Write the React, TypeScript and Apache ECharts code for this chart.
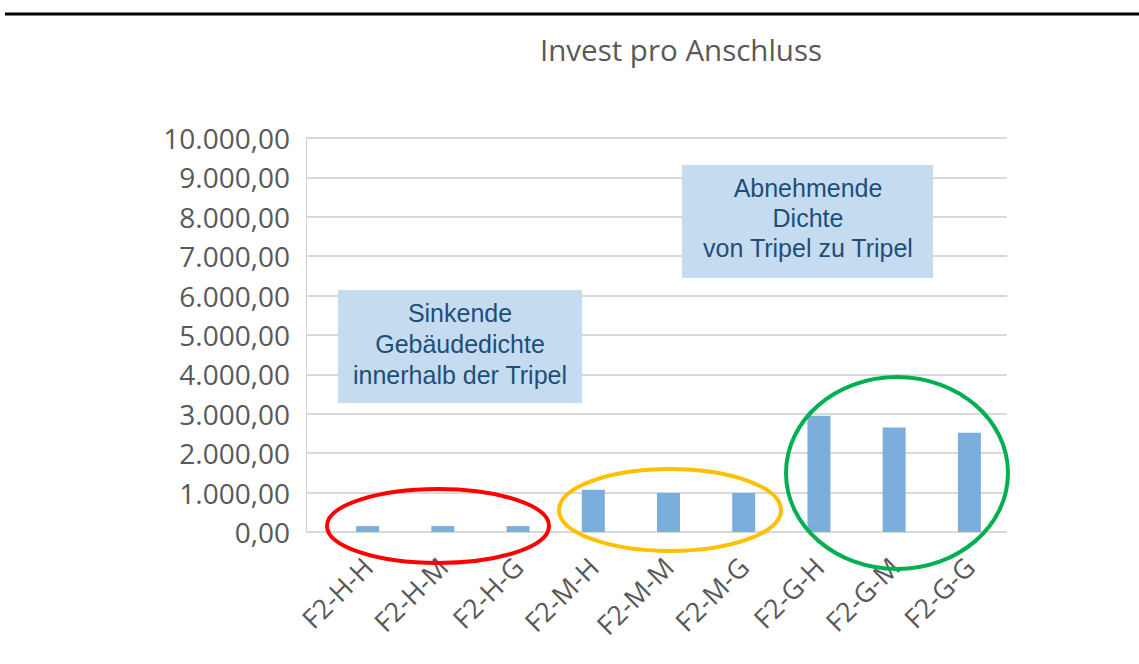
import React, { useEffect, useRef } from "react";
import * as echarts from "echarts";

const categories = ["F2-H-H", "F2-H-M", "F2-H-G", "F2-M-H", "F2-M-M", "F2-M-G", "F2-G-H", "F2-G-M", "F2-G-G"];
const investValues = [150, 150, 150, 1070, 990, 990, 2950, 2650, 2520];
const yMin = 0;
const yMax = 10000;
const yStep = 1000;
const titleText = "Invest pro Anschluss";
const box1Text = "Sinkende\nGebäudedichte\ninnerhalb der Tripel";
const box2Text = "Abnehmende\nDichte\nvon Tripel zu Tripel";

function fmt(v: number): string {
  const s = Math.round(v).toString().replace(/\B(?=(\d{3})+(?!\d))/g, ".");
  return s + ",00";
}

export default function App() {
  const ref = useRef<HTMLDivElement>(null);
  useEffect(() => {
    if (!ref.current) return;
    const chart = echarts.init(ref.current, null, { renderer: "svg" });
    const gray = "#595959";
    const grid = "#D9D9D9";
    const boxFill = "#C5DCF0";
    const boxText = "#1F4E79";
    const font = "Open Sans";
    chart.setOption({
      animation: false,
      backgroundColor: "#ffffff",
      title: {
        text: titleText,
        left: 535,
        top: 29,
        textStyle: { fontFamily: font, fontSize: 29.5, fontWeight: "normal", color: gray },
      },
      grid: [
        { left: 306, right: 132, top: 138, bottom: 132 },
        { left: 330, right: 132, top: 138, bottom: 132 },
      ],
      xAxis: [
        { gridIndex: 0, type: "category", data: categories, show: false },
        {
          gridIndex: 1,
          type: "category",
          data: categories,
          axisLine: { show: false },
          axisTick: { show: false },
          axisLabel: { rotate: 45, margin: 30, fontFamily: font, fontSize: 27, color: gray, interval: 0 },
        },
      ],
      yAxis: [
        {
          gridIndex: 0,
          type: "value",
          min: yMin,
          max: yMax,
          interval: yStep,
          axisLine: { show: true, lineStyle: { color: "#BDD7EE", width: 1 } },
          axisTick: { show: false },
          axisLabel: { margin: 16, fontFamily: font, fontSize: 28, color: gray, formatter: (v: number) => fmt(v) },
          splitLine: { show: true, lineStyle: { color: grid, width: 2 } },
        },
        {
          gridIndex: 1,
          type: "value",
          min: yMin,
          max: yMax,
          interval: yStep,
          show: false,
          splitLine: { show: false },
        },
      ],
      series: [
        {
          type: "bar",
          xAxisIndex: 1,
          yAxisIndex: 1,
          data: investValues,
          barWidth: 23,
          itemStyle: { color: "#7CAEDD" },
        },
      ],
      graphic: [
        { type: "line", z: 100, shape: { x1: 5, y1: 14, x2: 1139, y2: 14 }, style: { stroke: "#000", lineWidth: 3 } },
        {
          type: "group",
          z: 100,
          children: [
            { type: "rect", z: 100, shape: { x: 338, y: 290, width: 244, height: 113 }, style: { fill: boxFill } },
            {
              type: "text",
              z: 101,
              x: 460,
              y: 344,
              style: {
                text: box1Text,
                fontFamily: "Liberation Sans",
                fontSize: 25,
                lineHeight: 31,
                fill: boxText,
                align: "center",
                verticalAlign: "middle",
              },
            },
          ],
        },
        {
          type: "group",
          z: 100,
          children: [
            { type: "rect", z: 100, shape: { x: 682, y: 165, width: 251, height: 113 }, style: { fill: boxFill } },
            {
              type: "text",
              z: 101,
              x: 808,
              y: 218,
              style: {
                text: box2Text,
                fontFamily: "Liberation Sans",
                fontSize: 25,
                lineHeight: 30,
                fill: boxText,
                align: "center",
                verticalAlign: "middle",
              },
            },
          ],
        },
        { type: "ellipse", z: 100, shape: { cx: 438, cy: 526, rx: 111, ry: 37 }, style: { fill: "none", stroke: "#FF0000", lineWidth: 4 } },
        { type: "ellipse", z: 100, shape: { cx: 670, cy: 510, rx: 111, ry: 41 }, style: { fill: "none", stroke: "#FFC000", lineWidth: 4 } },
        { type: "ellipse", z: 100, shape: { cx: 897, cy: 473, rx: 111, ry: 96 }, style: { fill: "none", stroke: "#00B050", lineWidth: 4 } },
      ],
    });
    return () => chart.dispose();
  }, []);
  return <div ref={ref} style={{ position: "fixed", left: 0, top: 0, width: 1139, height: 664 }} />;
}
